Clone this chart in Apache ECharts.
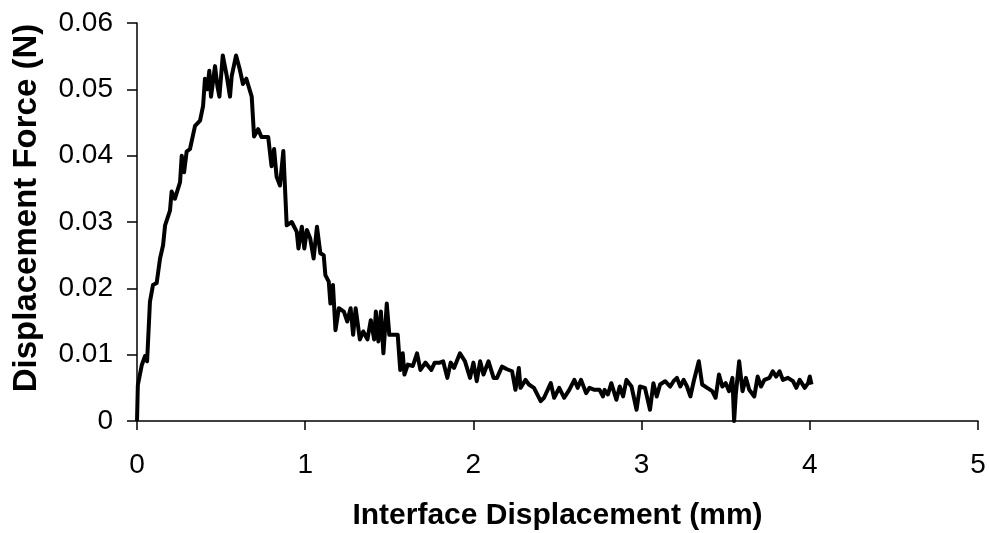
<!DOCTYPE html>
<html>
<head>
<meta charset="utf-8">
<script src="https://cdn.jsdelivr.net/npm/echarts@6/dist/echarts.min.js"></script>
<style>
    html, body { margin: 0; padding: 0; background: #fff; }
    #forceChart { width: 990px; height: 533px; }
</style>
</head>
<body>
<div id="forceChart"></div>
<script>
// interface displacement (mm)
var dispX = [0, 0.005, 0.028, 0.048, 0.06, 0.077, 0.095, 0.117, 0.137, 0.155, 0.167, 0.196, 0.206, 0.225,
    0.256, 0.266, 0.28, 0.295, 0.315, 0.345, 0.375, 0.393, 0.404, 0.418, 0.43, 0.44, 0.464, 0.478, 0.49,
    0.51, 0.533, 0.553, 0.563, 0.589, 0.61, 0.63, 0.65, 0.682, 0.696, 0.72, 0.74, 0.78, 0.80, 0.815, 0.83,
    0.85, 0.87, 0.89, 0.92, 0.95, 0.96, 0.98, 0.995, 1.01, 1.03, 1.05, 1.07, 1.09, 1.11, 1.12, 1.14, 1.15,
    1.165, 1.18, 1.20, 1.23, 1.25, 1.27, 1.285, 1.30, 1.325, 1.345, 1.37, 1.39, 1.41, 1.42, 1.435, 1.45,
    1.465, 1.485, 1.50, 1.53, 1.55, 1.565, 1.58, 1.59, 1.61, 1.64, 1.665, 1.685, 1.715, 1.75, 1.77, 1.80,
    1.82, 1.845, 1.865, 1.885, 1.92, 1.95, 1.98, 2.0, 2.02, 2.04, 2.06, 2.09, 2.12, 2.14, 2.17, 2.2, 2.23,
    2.25, 2.27, 2.28, 2.31, 2.33, 2.36, 2.40, 2.42, 2.46, 2.48, 2.51, 2.54, 2.57, 2.60, 2.62, 2.64, 2.67,
    2.69, 2.72, 2.75, 2.77, 2.78, 2.80, 2.82, 2.85, 2.87, 2.89, 2.91, 2.94, 2.97, 2.99, 3.02, 3.05, 3.07,
    3.09, 3.11, 3.14, 3.17, 3.19, 3.21, 3.23, 3.25, 3.27, 3.29, 3.31, 3.34, 3.36, 3.39, 3.42, 3.44, 3.46,
    3.48, 3.50, 3.52, 3.54, 3.55, 3.56, 3.58, 3.60, 3.62, 3.64, 3.67, 3.69, 3.71, 3.73, 3.76, 3.78, 3.80,
    3.82, 3.84, 3.87, 3.90, 3.92, 3.94, 3.97, 3.99, 4.0, 4.01];

// displacement force (N)
var forceY = [0, 0.0054, 0.0084, 0.0098, 0.009, 0.018, 0.0205, 0.0208, 0.0245, 0.0265, 0.0295, 0.0317, 0.0346, 0.0335,
    0.036, 0.040, 0.0375, 0.0406, 0.041, 0.0445, 0.0453, 0.0475, 0.0516, 0.050, 0.0528, 0.0489, 0.0535, 0.0505, 0.0489,
    0.0551, 0.0521, 0.0489, 0.052, 0.0551, 0.0531, 0.0508, 0.0516, 0.0489, 0.0429, 0.044, 0.0428, 0.0428, 0.0384, 0.041, 0.0368,
    0.0355, 0.0407, 0.0295, 0.030, 0.0285, 0.026, 0.0293, 0.026, 0.0288, 0.0275, 0.0245, 0.0293, 0.0253, 0.025, 0.022, 0.021, 0.0177,
    0.0205, 0.0137, 0.017, 0.0165, 0.015, 0.017, 0.013, 0.017, 0.0123, 0.0135, 0.0123, 0.0152, 0.0123, 0.0165, 0.012, 0.0165,
    0.0102, 0.0177, 0.013, 0.013, 0.013, 0.0077, 0.0102, 0.007, 0.0085, 0.0083, 0.0102, 0.0077, 0.0088, 0.0077, 0.0088, 0.0088,
    0.009, 0.0065, 0.0088, 0.008, 0.0102, 0.009, 0.0065, 0.0088, 0.006, 0.009, 0.007, 0.009, 0.0065, 0.0065, 0.0082, 0.0078, 0.0075,
    0.0047, 0.008, 0.005, 0.0062, 0.0055, 0.005, 0.003, 0.0035, 0.0057, 0.0035, 0.005, 0.0035, 0.0047, 0.0062, 0.005, 0.0062, 0.0042,
    0.005, 0.0047, 0.0047, 0.0037, 0.0047, 0.004, 0.0057, 0.0032, 0.0052, 0.0037, 0.0062, 0.0052, 0.0017, 0.0052, 0.005, 0.0017, 0.0057,
    0.0037, 0.0055, 0.006, 0.0052, 0.006, 0.0065, 0.0052, 0.0062, 0.0052, 0.0037, 0.006, 0.009, 0.0055, 0.005, 0.0045, 0.0035, 0.007,
    0.0052, 0.0057, 0.0045, 0.0065, 0.0, 0.004, 0.009, 0.0045, 0.0065, 0.0047, 0.0037, 0.0067, 0.0052, 0.0062, 0.0065, 0.0075, 0.0067,
    0.0075, 0.0062, 0.0065, 0.006, 0.005, 0.0062, 0.005, 0.0057, 0.0067, 0.0055];

var xTicks = [0, 1, 2, 3, 4, 5];
var yTicks = [0, 0.01, 0.02, 0.03, 0.04, 0.05, 0.06];

var forceChart = echarts.init(document.getElementById('forceChart'));

var points = [];
for (var i = 0; i < dispX.length; i++) {
    points.push([dispX[i], forceY[i]]);
}

var axisFont = 'Liberation Sans, Arial, sans-serif';

var option = {
    animation: false,
    backgroundColor: '#fff',
    grid: {
        left: 137,
        right: 12,
        top: 23,
        bottom: 112,
        containLabel: false,
        outerBoundsMode: 'none'
    },
    xAxis: {
        type: 'value',
        min: xTicks[0],
        max: xTicks[xTicks.length - 1],
        interval: 1,
        name: 'Interface Displacement (mm)',
        nameLocation: 'middle',
        nameGap: 80,
        nameTextStyle: {
            color: '#000',
            fontFamily: axisFont,
            fontWeight: 'bold',
            fontSize: 30
        },
        axisLine: {
            onZero: false,
            lineStyle: { color: '#000', width: 1.5 }
        },
        axisTick: {
            length: 9,
            lineStyle: { color: '#000', width: 1.5 }
        },
        axisLabel: {
            margin: 30,
            color: '#000',
            fontFamily: axisFont,
            fontSize: 28
        },
        splitLine: { show: false }
    },
    yAxis: {
        type: 'value',
        min: yTicks[0],
        max: yTicks[yTicks.length - 1],
        interval: 0.01,
        name: 'Displacement Force (N)',
        nameLocation: 'middle',
        nameGap: 94,
        nameTextStyle: {
            color: '#000',
            fontFamily: axisFont,
            fontWeight: 'bold',
            fontSize: 33,
            padding: [0, 0, 0, 28]
        },
        axisLine: {
            show: true,
            lineStyle: { color: '#000', width: 1.5 }
        },
        axisTick: {
            show: true,
            length: 10,
            lineStyle: { color: '#000', width: 1.5 }
        },
        axisLabel: {
            margin: 24,
            color: '#000',
            fontFamily: axisFont,
            fontSize: 28
        },
        splitLine: { show: false }
    },
    series: [
        {
            name: 'Displacement Force',
            type: 'line',
            data: points,
            showSymbol: false,
            symbol: 'none',
            lineStyle: { color: '#000', width: 4, join: 'round' },
            itemStyle: { color: '#000' }
        }
    ]
};
forceChart.setOption(option);
</script>
</body>
</html>
